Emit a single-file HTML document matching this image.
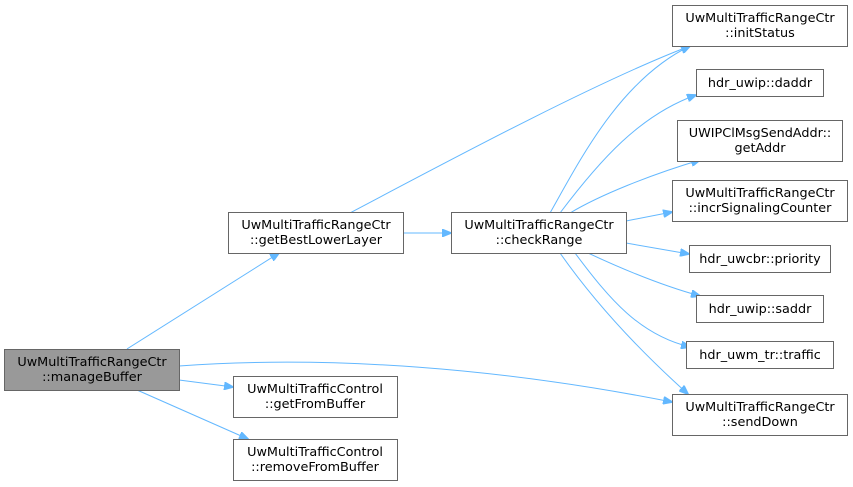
<!DOCTYPE html>
<html><head><meta charset="utf-8"><style>html,body{margin:0;padding:0;background:#fff}svg{display:block}text{font-family:"DejaVu Sans","Liberation Sans",sans-serif;font-size:12.8px;fill:#000}</style></head><body>
<svg width="853" height="487" viewBox="0 0 853 487" xmlns="http://www.w3.org/2000/svg">
<defs><marker id="a" markerWidth="10" markerHeight="8" refX="9" refY="4" orient="auto" markerUnits="userSpaceOnUse"><path d="M0,0 L10,4 L0,8 z" fill="#63b8ff" stroke="#63b8ff"/></marker></defs>
<g fill="none" stroke="#63b8ff" stroke-width="1" marker-end="url(#a)">
<path d="M127,349 L279,253"/>
<path d="M179,380 L233,387"/>
<path d="M137,390 L248,439"/>
<path d="M179,366 C330,355 500,368 672,402"/>
<path d="M403,233 L451,233"/>
<path d="M350,213 C450,160 600,80 690,46"/>
<path d="M550,213 C580,160 620,80 690,46"/>
<path d="M560,213 C600,160 640,115 696,95"/>
<path d="M570,213 C600,195 650,175 700,160"/>
<path d="M626,221 L672,212"/>
<path d="M626,243 L689,254"/>
<path d="M588,253 C620,268 660,285 700,296"/>
<path d="M575,253 C610,300 640,335 690,347"/>
<path d="M560,253 C600,310 650,360 688,394"/>
</g>
<g stroke="#666" stroke-width="1">
<rect x="4.5" y="349.5" width="175" height="41" fill="#999"/>
<rect x="228.5" y="212.5" width="175" height="41" fill="#fff"/>
<rect x="233.5" y="376.5" width="164" height="41" fill="#fff"/>
<rect x="233.5" y="439.5" width="164" height="41" fill="#fff"/>
<rect x="451.5" y="212.5" width="175" height="41" fill="#fff"/>
<rect x="672.5" y="5.5" width="175" height="41" fill="#fff"/>
<rect x="696.5" y="69.5" width="127" height="27" fill="#fff"/>
<rect x="677.5" y="120.5" width="165" height="41" fill="#fff"/>
<rect x="672.5" y="180.5" width="175" height="41" fill="#fff"/>
<rect x="689.5" y="245.5" width="141" height="27" fill="#fff"/>
<rect x="696.5" y="295.5" width="127" height="27" fill="#fff"/>
<rect x="686.5" y="341.5" width="147" height="27" fill="#fff"/>
<rect x="672.5" y="394.5" width="175" height="41" fill="#fff"/>
</g>
<g text-anchor="middle">
<text x="92" y="366">UwMultiTrafficRangeCtr</text><text x="92" y="381">::manageBuffer</text>
<text x="316" y="229">UwMultiTrafficRangeCtr</text><text x="316" y="244">::getBestLowerLayer</text>
<text x="315" y="393">UwMultiTrafficControl</text><text x="315" y="408">::getFromBuffer</text>
<text x="315" y="456">UwMultiTrafficControl</text><text x="315" y="471">::removeFromBuffer</text>
<text x="539" y="229">UwMultiTrafficRangeCtr</text><text x="539" y="244">::checkRange</text>
<text x="760" y="22">UwMultiTrafficRangeCtr</text><text x="760" y="37">::initStatus</text>
<text x="760" y="87">hdr_uwip::daddr</text>
<text x="760" y="137">UWIPClMsgSendAddr::</text><text x="760" y="152">getAddr</text>
<text x="760" y="197">UwMultiTrafficRangeCtr</text><text x="760" y="212">::incrSignalingCounter</text>
<text x="760" y="263">hdr_uwcbr::priority</text>
<text x="760" y="313">hdr_uwip::saddr</text>
<text x="760" y="359">hdr_uwm_tr::traffic</text>
<text x="760" y="411">UwMultiTrafficRangeCtr</text><text x="760" y="426">::sendDown</text>
</g>
</svg>
</body></html>
